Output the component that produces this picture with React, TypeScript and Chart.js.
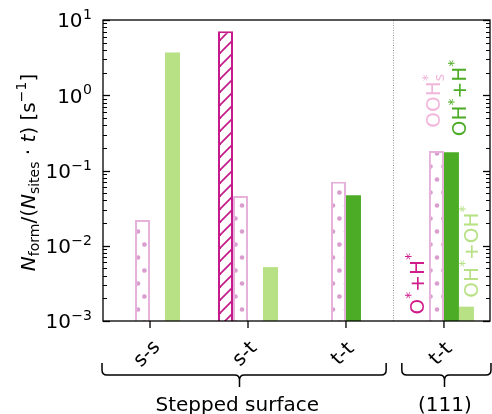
"use client";
// Import des modules nécessaires
import React, { useEffect, useRef } from "react";
import { Chart, registerables } from "chart.js";

Chart.register(...registerables);

// Catégories (sites) et groupes de surfaces
const categories = ["s-s", "s-t", "t-t", "t-t"];
const groupNames = ["Stepped surface", "(111)"];
// Noms des séries ( _x = indice, * = exposant )
const seriesNames = ["O*+H*", "OOH_s*", "OH*+H*", "OH*+OH*"];
// Valeurs, en s^-1 (null = pas de barre)
const oPlusH = [null, 7.1, null, null];
const oohS = [0.022, 0.046, 0.071, 0.181];
const ohPlusH = [null, null, 0.047, 0.175];
const ohPlusOh = [3.7, 0.0052, null, 0.00155];
// Graduations de l'axe y
const yTicks = [1e-3, 1e-2, 1e-1, 1, 10];
const yExponents = ["−3", "−2", "−1", "0", "1"];

// Couleurs
const MAGENTA = "#c51b8a";
const MAGENTA_TXT = "#d01c8b";
const PINK = "#e6b1da";
const PINK_DOT = "#d99ecf";
const PINK_TXT = "#f1b6da";
const DARK_GREEN = "#4dac26";
const LIGHT_GREEN = "#b8e186";
const FONT = '"DejaVu Sans"';
const FS = 20;

type Run = { t: string; k?: "i" | "b" | "p"; stack?: boolean };

// Découpe un nom du type "OOH_s*" en morceaux (indice / exposant)
const parseName = (name: string): Run[] => {
  const runs: Run[] = [];
  let i = 0;
  while (i < name.length) {
    const c = name[i];
    if (c === "*") {
      const prev = runs[runs.length - 1];
      runs.push({ t: "*", k: "p", stack: !!prev && prev.k === "b" });
      i++;
    } else if (c === "_") {
      runs.push({ t: name[i + 1], k: "b" });
      i += 2;
    } else {
      const prev = runs[runs.length - 1];
      if (prev && !prev.k) prev.t += c;
      else runs.push({ t: c });
      i++;
    }
  }
  return runs;
};

const titleRuns: Run[] = [
  { t: "N", k: "i" },
  { t: "form", k: "b" },
  { t: "/(" },
  { t: "N", k: "i" },
  { t: "sites", k: "b" },
  { t: " · " },
  { t: "t", k: "i" },
  { t: ") [s" },
  { t: "−1", k: "p" },
  { t: "]" },
];

// Mise en page d'un texte riche, retourne les morceaux et la largeur totale
const layoutRuns = (ctx: CanvasRenderingContext2D, runs: Run[], size: number) => {
  let x = 0;
  let prevStart = 0;
  let prevEnd = 0;
  const items: { t: string; font: string; x: number; dy: number }[] = [];
  for (const r of runs) {
    const s = r.k === "b" || r.k === "p" ? size * 0.7 : size;
    const font = `${r.k === "i" ? "italic " : ""}${s}px ${FONT}`;
    ctx.font = font;
    const w = ctx.measureText(r.t).width;
    const start = r.stack ? prevStart : x;
    const dy = r.k === "p" ? -size * 0.42 : r.k === "b" ? size * 0.22 : 0;
    items.push({ t: r.t, font, x: start, dy });
    const end = start + w;
    x = r.stack ? Math.max(prevEnd, end) : end;
    prevStart = start;
    prevEnd = end;
  }
  return { items, width: x };
};

const drawRuns = (
  ctx: CanvasRenderingContext2D,
  runs: Run[],
  x: number,
  y: number,
  rot: number,
  align: "left" | "center",
  color: string,
  size = FS
) => {
  const { items, width } = layoutRuns(ctx, runs, size);
  ctx.save();
  ctx.translate(x, y);
  ctx.rotate(rot);
  ctx.fillStyle = color;
  ctx.textAlign = "left";
  ctx.textBaseline = "alphabetic";
  const x0 = align === "center" ? -width / 2 : 0;
  for (const it of items) {
    ctx.font = it.font;
    ctx.fillText(it.t, x0 + it.x, it.dy);
  }
  ctx.restore();
};

// Accolade horizontale sous l'axe
const drawBrace = (
  ctx: CanvasRenderingContext2D,
  x1: number,
  x2: number,
  xt: number,
  yTop: number,
  yMid: number,
  yBot: number
) => {
  const r = 5;
  ctx.beginPath();
  ctx.moveTo(x1, yTop);
  ctx.lineTo(x1, yMid - r);
  ctx.quadraticCurveTo(x1, yMid, x1 + r, yMid);
  ctx.lineTo(xt - r, yMid);
  ctx.quadraticCurveTo(xt, yMid, xt, yMid + r);
  ctx.lineTo(xt, yBot);
  ctx.moveTo(x2, yTop);
  ctx.lineTo(x2, yMid - r);
  ctx.quadraticCurveTo(x2, yMid, x2 - r, yMid);
  ctx.lineTo(xt + r, yMid);
  ctx.quadraticCurveTo(xt, yMid, xt, yMid + r);
  ctx.stroke();
};

// Positions des annotations, en unités des axes
const braceSpans = [
  [-0.49, 2.41, 0.91],
  [2.57, 3.48, 3.0],
];
const groupCenters = [0.89, 3.01];
const separatorAt = 2.48;
const labelX = [2.72, 2.888, 3.154, 3.271];
const labelY = [0.00122, 0.369, 0.285, 0.00203];
const labelColors = [MAGENTA_TXT, PINK_TXT, DARK_GREEN, LIGHT_GREEN];

const decorPlugin = {
  id: "decor",
  afterDraw(chart: any) {
    const ctx: CanvasRenderingContext2D = chart.ctx;
    const { left, right, top, bottom } = chart.chartArea;
    const xs = chart.scales.x;
    const ys = chart.scales.y;
    const seg = (a: number, b: number, c: number, d: number) => {
      ctx.beginPath();
      ctx.moveTo(a, b);
      ctx.lineTo(c, d);
      ctx.stroke();
    };
    ctx.save();
    // ligne de séparation pointillée
    ctx.strokeStyle = "#999";
    ctx.lineWidth = 1;
    ctx.setLineDash([1, 1.5]);
    const sx = Math.round(xs.getPixelForValue(separatorAt)) + 0.5;
    seg(sx, top, sx, bottom);
    ctx.setLineDash([]);

    // cadre
    ctx.strokeStyle = "#000";
    ctx.lineWidth = 1.3;
    ctx.strokeRect(left, top, right - left, bottom - top);

    // graduations y vers l'intérieur (majeures + mineures)
    for (let e = -3; e <= 1; e++) {
      for (let k = 1; k <= 9; k++) {
        const v = k * Math.pow(10, e);
        if (v > 10.0001) break;
        const py = Math.round(ys.getPixelForValue(v)) + 0.5;
        const len = k === 1 ? 7 : 4;
        ctx.lineWidth = k === 1 ? 1.3 : 1;
        seg(left, py, left + len, py);
        seg(right, py, right - len, py);
      }
    }
    // graduations x vers l'extérieur
    ctx.lineWidth = 1.3;
    categories.forEach((_, i) => {
      const px = xs.getPixelForValue(i);
      seg(px, bottom, px, bottom + 7);
    });

    // étiquettes y : 10^n
    ctx.fillStyle = "#000";
    yTicks.forEach((v, i) => {
      const py = ys.getPixelForValue(v);
      ctx.font = `${FS * 0.7}px ${FONT}`;
      ctx.textAlign = "right";
      ctx.textBaseline = "alphabetic";
      const we = ctx.measureText(yExponents[i]).width;
      const xr = left - 11;
      ctx.fillText(yExponents[i], xr, py - 1);
      ctx.font = `${FS}px ${FONT}`;
      ctx.fillText("10", xr - we - 0.5, py + 7.3);
    });

    // titre de l'axe y
    drawRuns(ctx, titleRuns, 34.5, (top + bottom) / 2 + 2, -Math.PI / 2, "center", "#000");

    // étiquettes x inclinées
    ctx.font = `${FS}px ${FONT}`;
    ctx.fillStyle = "#000";
    categories.forEach((c, i) => {
      const px = xs.getPixelForValue(i);
      ctx.save();
      ctx.translate(px - 3, bottom + 33);
      ctx.rotate(-Math.PI / 4);
      ctx.textAlign = "center";
      ctx.textBaseline = "alphabetic";
      ctx.fillText(c, 0, 5.5);
      ctx.restore();
    });

    // accolades et noms des groupes
    ctx.lineWidth = 1.5;
    ctx.strokeStyle = "#000";
    braceSpans.forEach(([a, b, t]) => {
      drawBrace(
        ctx,
        xs.getPixelForValue(a),
        xs.getPixelForValue(b),
        Math.round(xs.getPixelForValue(t)) + 0.5,
        bottom + 42,
        bottom + 54,
        bottom + 66
      );
    });
    ctx.font = `${FS}px ${FONT}`;
    ctx.textAlign = "center";
    groupNames.forEach((g, i) => {
      ctx.fillText(g, xs.getPixelForValue(groupCenters[i]), bottom + 89.5);
    });

    // noms des séries, verticaux
    seriesNames.forEach((n, i) => {
      const px = xs.getPixelForValue(labelX[i]);
      const py = ys.getPixelForValue(labelY[i]);
      drawRuns(ctx, parseName(n), px + 7, py, -Math.PI / 2, "left", labelColors[i]);
    });
    ctx.restore();
  },
};

// Motifs de hachures (façon matplotlib)
const makeHatch = () => {
  const c = document.createElement("canvas");
  c.width = 13;
  c.height = 13;
  const g = c.getContext("2d")!;
  g.fillStyle = "#fff";
  g.fillRect(0, 0, 13, 13);
  g.strokeStyle = MAGENTA;
  g.lineWidth = 1.8;
  for (const o of [-13, 0, 13]) {
    g.beginPath();
    g.moveTo(o - 1, 14);
    g.lineTo(o + 14, -1);
    g.stroke();
  }
  return g.createPattern(c, "repeat")!;
};

const makeDots = () => {
  const c = document.createElement("canvas");
  c.width = 13;
  c.height = 26;
  const g = c.getContext("2d")!;
  g.fillStyle = "#fff";
  g.fillRect(0, 0, 13, 26);
  g.fillStyle = PINK_DOT;
  for (const [x, y] of [
    [8, 23.5],
    [1.5, 10.5],
    [14.5, 10.5],
    [8, -2.5],
  ]) {
    g.beginPath();
    g.arc(x, y, 2.3, 0, Math.PI * 2);
    g.fill();
  }
  return g.createPattern(c, "repeat")!;
};

const toPoints = (vals: (number | null)[]) => vals.map((v, i) => ({ x: i, y: v }));

const App = () => {
  const chartRef = useRef<HTMLCanvasElement>(null);

  useEffect(() => {
    if (!chartRef.current) return;
    const chart = new Chart(chartRef.current, {
      type: "bar",
      data: {
        datasets: [
          {
            label: seriesNames[0],
            data: toPoints(oPlusH) as any,
            backgroundColor: makeHatch(),
            borderColor: MAGENTA,
            borderWidth: 2,
          },
          {
            label: seriesNames[1],
            data: toPoints(oohS) as any,
            backgroundColor: makeDots(),
            borderColor: PINK,
            borderWidth: 2,
          },
          {
            label: seriesNames[2],
            data: toPoints(ohPlusH) as any,
            backgroundColor: DARK_GREEN,
            borderWidth: 0,
          },
          {
            label: seriesNames[3],
            data: toPoints(ohPlusOh) as any,
            backgroundColor: LIGHT_GREEN,
            borderWidth: 0,
          },
        ],
      },
      options: {
        animation: false,
        responsive: true,
        maintainAspectRatio: false,
        layout: { padding: { top: 20, right: 2, left: 0, bottom: 0 } },
        plugins: { legend: { display: false }, tooltip: { enabled: false } },
        datasets: { bar: { barThickness: 15, inflateAmount: 0 } },
        scales: {
          x: {
            type: "linear",
            offset: false,
            min: -0.48,
            max: 3.47,
            ticks: { display: false },
            grid: { display: false },
            border: { display: false },
            afterFit: (s: any) => {
              s.height = 93;
            },
          },
          y: {
            type: "logarithmic",
            min: 1e-3,
            max: 10,
            ticks: { display: false },
            grid: { display: false },
            border: { display: false },
            afterFit: (s: any) => {
              s.width = 103;
            },
          },
        },
      } as any,
      plugins: [decorPlugin],
    });
    // Fonction de nettoyage
    return () => chart.destroy();
  }, []);

  return (
    <div style={{ position: "fixed", left: 0, top: 0, width: 492, height: 414, background: "#fff" }}>
      <canvas ref={chartRef} />
    </div>
  );
};

export default App;
